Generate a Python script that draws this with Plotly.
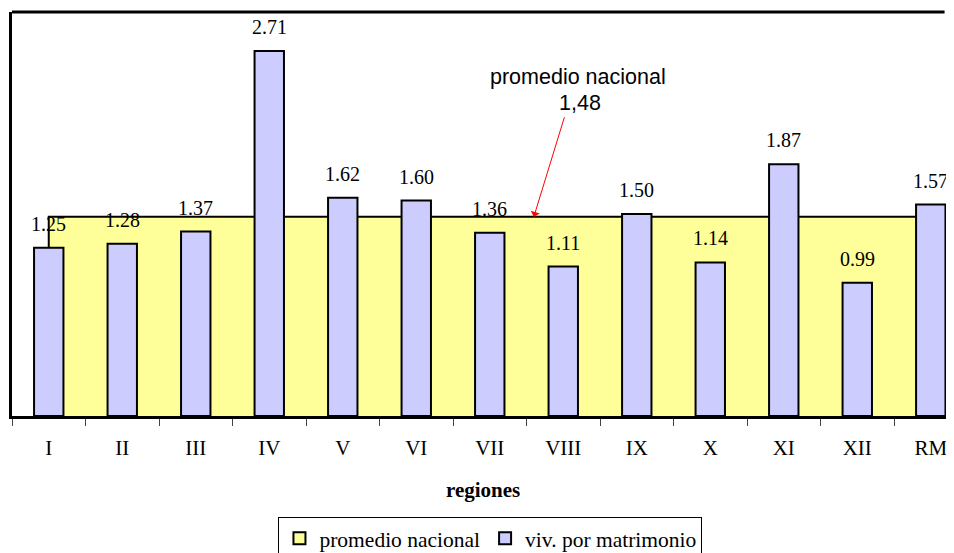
import plotly.graph_objects as go

# ---- data ----
regiones = ["I", "II", "III", "IV", "V", "VI", "VII", "VIII", "IX", "X", "XI", "XII", "RM"]
viv_por_matrimonio = [1.25, 1.28, 1.37, 2.71, 1.62, 1.60, 1.36, 1.11, 1.50, 1.14, 1.87, 0.99, 1.57]
promedio_nacional = [1.48, 1.48, 1.48, 1.48, 1.48, 1.48, 1.48, 1.48, 1.48, 1.48, 1.48, 1.48, 1.48]
promedio_valor = 1.48
promedio_texto = "1,48"

SERIF = "Liberation Serif"
SANS = "Liberation Sans"
YELLOW = "#FFFF99"
LAVENDER = "#CCCCFF"

fig = go.Figure()

# area (drawn on base axes, behind the bars)
area_x = [regiones[0]] + regiones + [regiones[-1]]
area_y = [0] + promedio_nacional + [0]
fig.add_trace(go.Scatter(
    x=area_x, y=area_y, mode="lines", fill="toself", fillcolor=YELLOW,
    line=dict(color="black", width=2), showlegend=False, hoverinfo="skip",
    xaxis="x", yaxis="y"))

# legend entry for the area
fig.add_trace(go.Bar(
    x=[None], y=[None], name="promedio nacional",
    marker=dict(color=YELLOW, line=dict(color="black", width=2)),
    xaxis="x2", yaxis="y2"))

# bars on overlaying axes so they sit on top of the area
fig.add_trace(go.Bar(
    x=regiones, y=viv_por_matrimonio, name="viv. por matrimonio", width=0.4,
    marker=dict(color=LAVENDER, line=dict(color="black", width=2)),
    xaxis="x2", yaxis="y2"))

xr = [-0.5, 12.316]
yr = [0, 3]

annotations = []
for cat, v in zip(regiones, viv_por_matrimonio):
    annotations.append(dict(
        x=cat, y=v, xref="x2", yref="y2", text=f"{v:.2f}", showarrow=False,
        yanchor="middle", yshift=24, font=dict(family=SERIF, size=20, color="black")))

# arrow
annotations.append(dict(
    x=6.6, y=promedio_valor, xref="x", yref="y", ax=31, ay=-101,
    axref="pixel", ayref="pixel", text="", showarrow=True,
    arrowcolor="red", arrowwidth=1, arrowhead=1, arrowsize=1.6))
annotations.append(dict(
    x=7.2, y=2.517, xref="x", yref="y", text="promedio nacional", showarrow=False,
    font=dict(family=SANS, size=21.5, color="black")))
annotations.append(dict(
    x=7.23, y=2.324, xref="x", yref="y", text=promedio_texto, showarrow=False,
    font=dict(family=SANS, size=21.5, color="black")))
annotations.append(dict(
    x=0.5, y=0, xref="paper", yref="paper", text="<b>regiones</b>", showarrow=False,
    yanchor="middle", yshift=-74, font=dict(family=SERIF, size=21, color="black")))

fig.update_layout(
    width=946, height=545,
    margin=dict(l=4, r=0, t=4, b=137, autoexpand=False),
    paper_bgcolor="white", plot_bgcolor="white",
    barmode="overlay",
    xaxis=dict(type="category", categoryorder="array", categoryarray=regiones,
               range=xr, showline=True, linewidth=3, linecolor="black",
               ticks="outside", tickson="boundaries", ticklen=7, tickwidth=1,
               tickcolor="#444", tickfont=dict(family=SERIF, size=21, color="black"),
               ticklabelstandoff=11, showgrid=False, zeroline=False),
    yaxis=dict(range=yr, showline=True, linewidth=3, linecolor="black",
               showticklabels=False, ticks="", showgrid=False, zeroline=False),
    xaxis2=dict(type="category", categoryorder="array", categoryarray=regiones,
                range=xr, overlaying="x", visible=False),
    yaxis2=dict(range=yr, overlaying="y", visible=False),
    shapes=[dict(type="line", xref="paper", yref="paper", x0=0, x1=0.99, y0=1, y1=1,
                 line=dict(color="black", width=3))],
    annotations=annotations,
    legend=dict(orientation="h", xref="container", yref="paper",
                x=0.51, xanchor="center", y=-0.356, yanchor="bottom",
                bordercolor="black", borderwidth=1, bgcolor="white",
                itemwidth=30,
                font=dict(family=SERIF, size=21.5, color="black"),
                traceorder="normal"),
    hovermode=False,
)

fig.write_html("out.html")
